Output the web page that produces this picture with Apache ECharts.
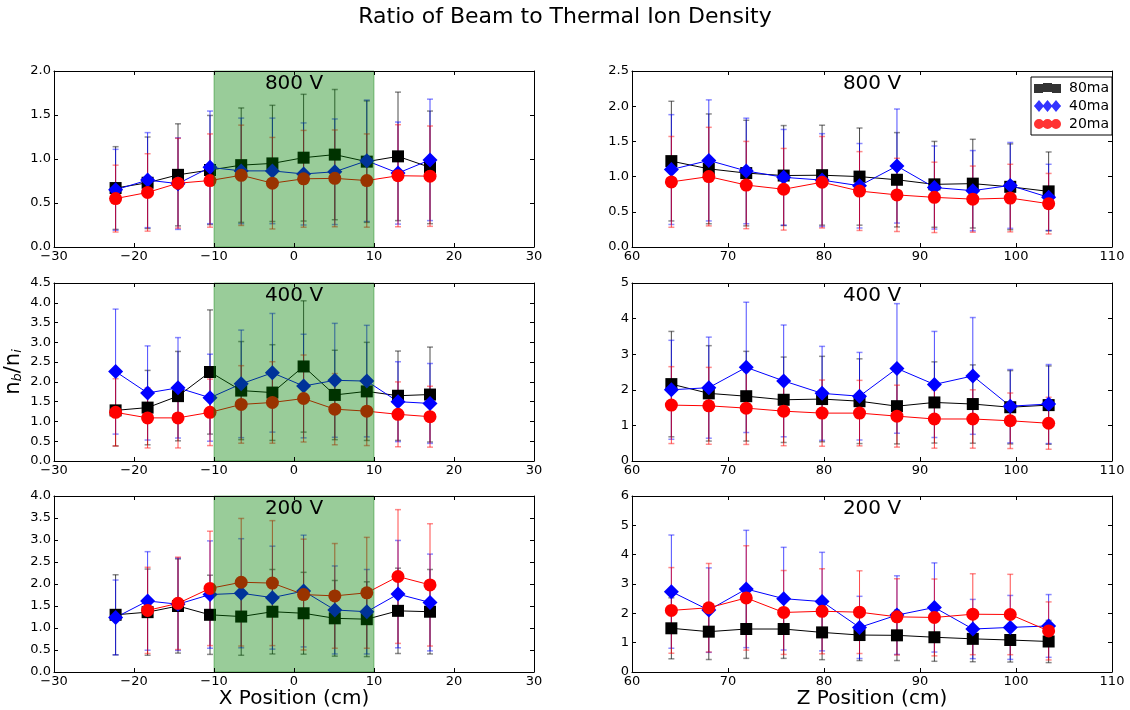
<!DOCTYPE html>
<html>
<head>
<meta charset="utf-8">
<title>Ratio of Beam to Thermal Ion Density</title>
<script src="https://cdn.jsdelivr.net/npm/echarts@6/dist/echarts.min.js"></script>
<style>
  html, body { margin: 0; padding: 0; background: #fff; }
  #chart { width: 1130px; height: 710px; }
</style>
</head>
<body>
<div id="chart"></div>
<script>
// probe positions (cm)
var xPos = [-22.3, -18.3, -14.5, -10.5, -6.6, -2.7, 1.2, 5.1, 9.1, 13.0, 17.0];
var zPos = [64.1, 68.0, 71.9, 75.8, 79.8, 83.7, 87.6, 91.5, 95.5, 99.4, 103.4];
var seriesNames = ["80ma", "40ma", "20ma"];
var panelTitles = ["800 V", "400 V", "200 V"];
var beamSpan = [-10, 10];

// X scan, 800 V
var x800_80 = [0.67, 0.73, 0.82, 0.875, 0.93, 0.95, 1.015, 1.05, 0.97, 1.03, 0.905];
var x800_80Err = [0.47, 0.52, 0.58, 0.62, 0.65, 0.66, 0.72, 0.74, 0.69, 0.73, 0.64];
var x800_40 = [0.65, 0.76, 0.72, 0.905, 0.865, 0.865, 0.83, 0.855, 0.98, 0.84, 0.99];
var x800_40Err = [0.46, 0.54, 0.52, 0.64, 0.6, 0.6, 0.58, 0.6, 0.69, 0.58, 0.69];
var x800_20 = [0.55, 0.62, 0.725, 0.755, 0.815, 0.725, 0.775, 0.78, 0.755, 0.81, 0.805];
var x800_20Err = [0.38, 0.44, 0.51, 0.53, 0.57, 0.52, 0.55, 0.55, 0.53, 0.58, 0.57];

// Z scan, 800 V
var z800_80 = [1.22, 1.11, 1.05, 1.015, 1.02, 1.0, 0.955, 0.89, 0.9, 0.855, 0.79];
var z800_80Err = [0.85, 0.78, 0.75, 0.71, 0.71, 0.69, 0.67, 0.61, 0.63, 0.61, 0.56];
var z800_40 = [1.1, 1.23, 1.08, 0.99, 0.95, 0.87, 1.15, 0.845, 0.8, 0.875, 0.705];
var z800_40Err = [0.78, 0.86, 0.75, 0.68, 0.66, 0.6, 0.81, 0.59, 0.57, 0.61, 0.47];
var z800_20 = [0.925, 1.0, 0.88, 0.82, 0.92, 0.795, 0.74, 0.705, 0.68, 0.695, 0.615];
var z800_20Err = [0.645, 0.7, 0.62, 0.58, 0.65, 0.56, 0.52, 0.5, 0.47, 0.48, 0.43];

// X scan, 400 V
var x400_80 = [1.28, 1.35, 1.64, 2.25, 1.78, 1.73, 2.39, 1.67, 1.76, 1.65, 1.68];
var x400_80Err = [0.9, 0.94, 1.13, 1.57, 1.24, 1.21, 1.66, 1.13, 1.24, 1.13, 1.2];
var x400_40 = [2.26, 1.72, 1.85, 1.6, 1.95, 2.23, 1.895, 2.04, 2.02, 1.5, 1.455];
var x400_40Err = [1.58, 1.19, 1.27, 1.1, 1.36, 1.5, 1.31, 1.44, 1.41, 1.01, 1.01];
var x400_20 = [1.23, 1.09, 1.09, 1.23, 1.43, 1.48, 1.58, 1.31, 1.26, 1.18, 1.12];
var x400_20Err = [0.85, 0.76, 0.76, 0.84, 0.98, 1.03, 1.1, 0.9, 0.87, 0.82, 0.77];

// Z scan, 400 V
var z400_80 = [2.16, 1.9, 1.82, 1.72, 1.74, 1.68, 1.54, 1.645, 1.6, 1.51, 1.57];
var z400_80Err = [1.48, 1.34, 1.26, 1.2, 1.2, 1.19, 1.06, 1.14, 1.1, 1.03, 1.1];
var z400_40 = [2.0, 2.06, 2.63, 2.25, 1.9, 1.82, 2.6, 2.15, 2.39, 1.54, 1.6];
var z400_40Err = [1.39, 1.42, 1.83, 1.57, 1.32, 1.23, 1.82, 1.49, 1.64, 1.03, 1.11];
var z400_20 = [1.57, 1.55, 1.485, 1.4, 1.345, 1.345, 1.26, 1.18, 1.18, 1.13, 1.06];
var z400_20Err = [1.08, 1.08, 1.02, 0.97, 0.93, 0.92, 0.87, 0.82, 0.82, 0.78, 0.73];

// X scan, 200 V
var x200_80 = [1.3, 1.36, 1.5, 1.3, 1.26, 1.37, 1.335, 1.22, 1.2, 1.39, 1.37];
var x200_80Err = [0.91, 0.98, 1.07, 0.9, 0.88, 0.96, 0.93, 0.86, 0.85, 0.97, 0.96];
var x200_40 = [1.24, 1.615, 1.54, 1.76, 1.79, 1.69, 1.84, 1.41, 1.37, 1.77, 1.58];
var x200_40Err = [0.85, 1.12, 1.05, 1.22, 1.24, 1.17, 1.27, 1.0, 0.96, 1.22, 1.1];
var x200_20 = [null, 1.4, 1.56, 1.9, 2.04, 2.02, 1.76, 1.73, 1.8, 2.17, 1.98];
var x200_20Err = [null, 0.98, 1.05, 1.3, 1.45, 1.42, 1.26, 1.19, 1.26, 1.52, 1.39];

// Z scan, 200 V
var z200_80 = [1.49, 1.375, 1.465, 1.465, 1.35, 1.26, 1.25, 1.185, 1.13, 1.09, 1.04];
var z200_80Err = [1.04, 0.95, 1.0, 1.0, 0.93, 0.87, 0.86, 0.82, 0.78, 0.75, 0.72];
var z200_40 = [2.74, 2.11, 2.83, 2.5, 2.4, 1.52, 1.94, 2.2, 1.465, 1.52, 1.57];
var z200_40Err = [1.93, 1.44, 2.0, 1.75, 1.68, 1.06, 1.34, 1.52, 1.01, 1.09, 1.07];
var z200_20 = [2.1, 2.19, 2.525, 2.03, 2.07, 2.04, 1.88, 1.86, 1.97, 1.96, 1.4];
var z200_20Err = [1.46, 1.51, 1.78, 1.43, 1.45, 1.41, 1.3, 1.31, 1.38, 1.37, 0.99];

var FONT = "DejaVu Sans";
var colors = ["#000000", "#0000ff", "#ff0000"];
var errColors = ["rgba(0,0,0,0.7)", "rgba(0,0,255,0.7)", "rgba(255,0,0,0.7)"];
var capColors = ["rgba(0,0,0,0.45)", "rgba(0,0,255,0.45)", "rgba(255,0,0,0.45)"];
var symbols = ["rect", "diamond", "circle"];
var symbolSizes = [12, 15, 13];
var legendIcons = [
  "path://M0,1h9v9h-9zM9,0h9v9h-9zM18,1h9v9h-9zM0,4h27v2h-27z",
  "path://M0,6L5,0L10,6L5,12zM8.5,6L13.5,0L18.5,6L13.5,12zM17,6L22,0L27,6L22,12zM0,5.5h27v1h-27z",
  "path://M0,6a5,5 0 1,1 10,0a5,5 0 1,1 -10,0zM8.5,6a5,5 0 1,1 10,0a5,5 0 1,1 -10,0zM17,6a5,5 0 1,1 10,0a5,5 0 1,1 -10,0zM0,5.5h27v1h-27z"
];

var L_LEFT = 54, R_LEFT = 632, PANEL_W = 480;
var panels = [
  { pos: xPos, vals: [x800_80, x800_40, x800_20], errs: [x800_80Err, x800_40Err, x800_20Err],
    title: panelTitles[0], grid: { left: L_LEFT, top: 71, width: PANEL_W, height: 176 },
    xMin: -30, xMax: 30, yMax: 2, yInt: 0.5, dec: 1, span: true },
  { pos: zPos, vals: [z800_80, z800_40, z800_20], errs: [z800_80Err, z800_40Err, z800_20Err],
    title: panelTitles[0], grid: { left: R_LEFT, top: 71, width: PANEL_W, height: 176 },
    xMin: 60, xMax: 110, yMax: 2.5, yInt: 0.5, dec: 1 },
  { pos: xPos, vals: [x400_80, x400_40, x400_20], errs: [x400_80Err, x400_40Err, x400_20Err],
    title: panelTitles[1], grid: { left: L_LEFT, top: 283, width: PANEL_W, height: 178 },
    xMin: -30, xMax: 30, yMax: 4.5, yInt: 0.5, dec: 1, span: true, yName: true },
  { pos: zPos, vals: [z400_80, z400_40, z400_20], errs: [z400_80Err, z400_40Err, z400_20Err],
    title: panelTitles[1], grid: { left: R_LEFT, top: 283, width: PANEL_W, height: 178 },
    xMin: 60, xMax: 110, yMax: 5, yInt: 1, dec: 0 },
  { pos: xPos, vals: [x200_80, x200_40, x200_20], errs: [x200_80Err, x200_40Err, x200_20Err],
    title: panelTitles[2], grid: { left: L_LEFT, top: 496, width: PANEL_W, height: 176 },
    xMin: -30, xMax: 30, yMax: 4, yInt: 0.5, dec: 1, span: true, xName: "X Position (cm)" },
  { pos: zPos, vals: [z200_80, z200_40, z200_20], errs: [z200_80Err, z200_40Err, z200_20Err],
    title: panelTitles[2], grid: { left: R_LEFT, top: 496, width: PANEL_W, height: 176 },
    xMin: 60, xMax: 110, yMax: 6, yInt: 1, dec: 0, xName: "Z Position (cm)" }
];

function tickFormatter(dec) {
  return function (v) {
    return v.toFixed(dec).replace("-", "\u2212");
  };
}

function axisBase(labels, fmt, margin) {
  return {
    z: 6,
    splitLine: { show: false },
    axisLine: { show: true, onZero: false, lineStyle: { color: "#000", width: 1 } },
    axisTick: { show: true, inside: true, length: 4, lineStyle: { color: "#000" } },
    axisLabel: { show: labels, formatter: fmt, fontSize: 13, color: "#000", fontFamily: FONT, margin: margin }
  };
}

function renderSpan(params, api) {
  var p0 = api.coord([api.value(0), 0]);
  var p1 = api.coord([api.value(1), 0]);
  var cs = params.coordSys;
  return {
    type: "rect",
    shape: { x: p0[0], y: cs.y, width: p1[0] - p0[0], height: cs.height },
    style: { fill: "rgba(0,128,0,0.4)", stroke: "rgba(0,128,0,0.4)", lineWidth: 1 }
  };
}

function errRenderer(color, capColor) {
  return function (params, api) {
    var x = api.value(0);
    var lo = api.coord([x, api.value(1)]);
    var hi = api.coord([x, api.value(2)]);
    var cap = 3;
    var capStyle = { stroke: capColor, lineWidth: 1.5 };
    return {
      type: "group",
      children: [
        { type: "line", shape: { x1: lo[0], y1: lo[1], x2: hi[0], y2: hi[1] }, style: { stroke: color, lineWidth: 1 } },
        { type: "line", shape: { x1: lo[0] - cap, y1: lo[1], x2: lo[0] + cap, y2: lo[1] }, style: capStyle },
        { type: "line", shape: { x1: hi[0] - cap, y1: hi[1], x2: hi[0] + cap, y2: hi[1] }, style: capStyle }
      ]
    };
  };
}

var option = {
  animation: false,
  backgroundColor: "#fff",
  textStyle: { fontFamily: FONT },
  title: [
    {
      text: "Ratio of Beam to Thermal Ion Density",
      left: 565, top: 6, textAlign: "center", padding: 0,
      textStyle: { fontSize: 22, fontWeight: "normal", color: "#000", fontFamily: FONT }
    }
  ],
  legend: {
    orient: "vertical",
    left: 1031, top: 77,
    padding: [4, 3, 4, 3],
    itemGap: 4,
    itemWidth: 27, itemHeight: 12,
    borderColor: "#000", borderWidth: 1, borderRadius: 0,
    backgroundColor: "#fff",
    textStyle: { fontSize: 14, color: "#000", fontFamily: FONT, padding: [0, 0, 0, 3] },
    data: seriesNames.map(function (n, i) { return { name: n, icon: legendIcons[i] }; }),
    z: 10
  },
  grid: [],
  xAxis: [],
  yAxis: [],
  series: []
};

// legend-only series, so the legend takes their plain icons
seriesNames.forEach(function (n, i) {
  option.series.push({ name: n, type: "scatter", data: [], itemStyle: { color: colors[i], borderWidth: 0 } });
});

panels.forEach(function (p, i) {
  option.grid.push(p.grid);
  option.title.push({
    text: p.title,
    left: p.grid.left + p.grid.width / 2, top: p.grid.top + 3,
    textAlign: "center", padding: 0,
    textStyle: { fontSize: 20, fontWeight: "normal", color: "#000", fontFamily: FONT }
  });

  var xb = axisBase(true, tickFormatter(0), 3);
  xb.type = "value"; xb.gridIndex = i; xb.position = "bottom";
  xb.min = p.xMin; xb.max = p.xMax; xb.interval = 10;
  if (p.xName) {
    xb.name = p.xName;
    xb.nameLocation = "middle";
    xb.nameGap = 16;
    xb.nameTextStyle = { fontSize: 20, color: "#000", fontFamily: FONT, verticalAlign: "top" };
  }
  var xt = axisBase(false);
  xt.type = "value"; xt.gridIndex = i; xt.position = "top";
  xt.min = p.xMin; xt.max = p.xMax; xt.interval = 10;
  option.xAxis.push(xb, xt);

  var yl = axisBase(true, tickFormatter(p.dec), 3);
  yl.type = "value"; yl.gridIndex = i; yl.position = "left";
  yl.min = 0; yl.max = p.yMax; yl.interval = p.yInt;
  if (p.yName) {
    yl.name = "{n|n}{s|b}{n|/n}{s|i}";
    yl.nameLocation = "middle";
    yl.nameGap = 30;
    yl.nameRotate = 90;
    yl.nameTextStyle = {
      color: "#000",
      rich: {
        n: { fontSize: 21, fontFamily: FONT, color: "#000", lineHeight: 24, verticalAlign: "bottom" },
        s: { fontSize: 13, fontFamily: FONT, fontStyle: "italic", color: "#000", lineHeight: 24, verticalAlign: "bottom" }
      }
    };
  }
  var yr = axisBase(false);
  yr.type = "value"; yr.gridIndex = i; yr.position = "right";
  yr.min = 0; yr.max = p.yMax; yr.interval = p.yInt;
  option.yAxis.push(yl, yr);

  var xi = 2 * i;
  if (p.span) {
    option.series.push({
      type: "custom", xAxisIndex: xi, yAxisIndex: xi, silent: true, z: 5,
      renderItem: renderSpan, data: [beamSpan]
    });
  }

  for (var s = 0; s < 3; s++) {
    var pts = [], bars = [];
    for (var k = 0; k < p.pos.length; k++) {
      var v = p.vals[s][k], e = p.errs[s][k];
      if (v == null) continue;
      pts.push([p.pos[k], v]);
      bars.push([p.pos[k], v - e, v + e]);
    }
    option.series.push({
      type: "custom", xAxisIndex: xi, yAxisIndex: xi, silent: true, z: 2,
      renderItem: errRenderer(errColors[s], capColors[s]),
      encode: { x: 0, y: [1, 2] },
      data: bars
    });
    option.series.push({
      name: seriesNames[s], type: "line", xAxisIndex: xi, yAxisIndex: xi, z: 2,
      symbol: symbols[s], symbolSize: symbolSizes[s],
      lineStyle: { color: colors[s], width: 1 },
      itemStyle: { color: colors[s] },
      emphasis: { disabled: true },
      data: pts
    });
  }
});

var myChart = echarts.init(document.getElementById("chart"), null, { renderer: "canvas" });
myChart.setOption(option);
</script>
</body>
</html>
